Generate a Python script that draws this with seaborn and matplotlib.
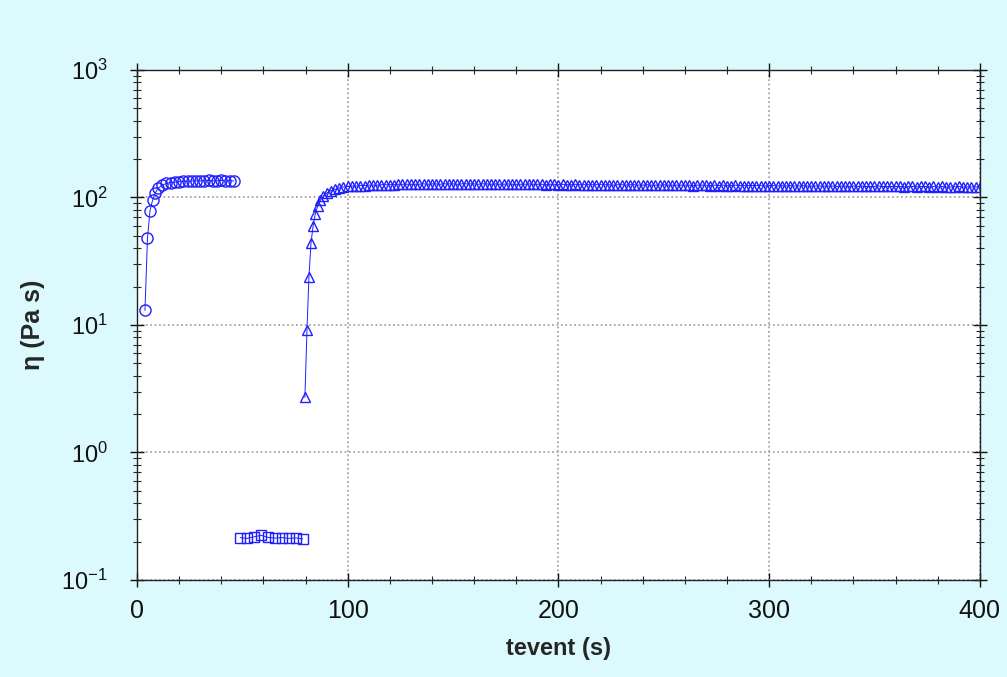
import numpy as np
import pandas as pd
import matplotlib
matplotlib.use("Agg")
import matplotlib.pyplot as plt
import seaborn as sns
from matplotlib.ticker import LogLocator, FuncFormatter, MultipleLocator, NullFormatter

# ---- data ----
circ_t = [3.8, 5.0, 6.2, 7.4, 8.6, 10, 12, 14, 16, 18, 20, 22, 24, 26, 28, 30,
          32, 34, 36, 38, 40, 42, 44, 46]
circ_eta = [13, 48, 79, 95, 108, 118, 125, 129, 131, 132, 133, 134, 134, 135,
            135, 135, 135, 136, 135, 135, 136, 135, 135, 135]

sq_t = [49, 52.3, 55.6, 58.9, 62.2, 65.5, 68.8, 72.1, 75.4, 78.7]
sq_eta = [0.215, 0.212, 0.218, 0.224, 0.216, 0.213, 0.215, 0.212, 0.214, 0.210]

tri_t_rise = [79.7, 80.7, 81.6, 82.6, 83.6, 84.6, 85.8, 87, 88.5, 90, 92, 94, 96, 98]
tri_eta_rise = [2.7, 9.2, 23.6, 44, 60, 74, 86, 95, 102, 108, 113, 116, 119, 121]

tri_t_plateau = list(np.arange(100, 401, 2))
tri_eta_plateau = [
    122, 123, 123, 124, 124, 125, 125, 125, 126, 126,
    126, 126, 127, 127, 127, 127, 127, 127, 128, 127,
    128, 128, 127, 128, 128, 128, 127, 128, 128, 128,
    128, 127, 128, 128, 127, 128, 127, 127, 128, 127,
    127, 127, 127, 128, 127, 127, 127, 126, 127, 127,
    126, 127, 126, 126, 127, 126, 126, 126, 126, 126,
    126, 126, 126, 125, 126, 126, 125, 126, 126, 125,
    125, 126, 125, 125, 125, 126, 125, 125, 125, 125,
    125, 125, 124, 125, 125, 125, 124, 125, 124, 125,
    124, 124, 125, 124, 124, 124, 124, 124, 124, 123,
    124, 124, 123, 124, 123, 124, 123, 123, 124, 123,
    123, 123, 123, 123, 123, 123, 122, 123, 123, 122,
    123, 122, 123, 122, 122, 122, 123, 122, 122, 122,
    122, 122, 121, 122, 122, 121, 122, 122, 121, 122,
    121, 122, 121, 121, 121, 122, 121, 121, 121, 121,
    121,
]

tri_t = tri_t_rise + tri_t_plateau
tri_eta = tri_eta_rise + tri_eta_plateau

BLUE = "#1f1fff"
BG = "#dcfafd"

sns.set_theme(style="ticks")
plt.rcParams.update({
    "font.family": ["Liberation Sans", "DejaVu Sans"],
    "mathtext.fontset": "custom",
    "mathtext.rm": "Liberation Sans",
    "mathtext.it": "Liberation Sans",
    "mathtext.bf": "Liberation Sans:bold",
    "axes.edgecolor": "#222222",
    "axes.linewidth": 1.0,
    "text.color": "black",
})

fig = plt.figure(figsize=(10.07, 6.77), dpi=100, facecolor=BG)
ax = fig.add_axes([0.136, 0.1433, 0.837, 0.7533])
ax.set_facecolor("white")

series = [
    (circ_t, circ_eta, "o", 8),
    (sq_t, sq_eta, "s", 6.5),
    (tri_t, tri_eta, "^", 7),
]
for t, eta, mk, ms in series:
    df = pd.DataFrame({"t": t, "eta": eta})
    sns.lineplot(data=df, x="t", y="eta", ax=ax, color=BLUE, lw=0.7,
                 marker=mk, markersize=ms, markerfacecolor="none",
                 markeredgecolor=BLUE, markeredgewidth=1.0)


def decade_label(v, pos):
    e = int(round(np.log10(v)))
    return r"$\mathregular{10^{%s}}$" % ("-1" if e < 0 else str(e))


ax.set_yscale("log")
ax.set_xlim(0, 400)
ax.set_ylim(0.1, 1000)

ax.xaxis.set_major_locator(MultipleLocator(100))
ax.xaxis.set_minor_locator(MultipleLocator(20))
ax.yaxis.set_major_locator(LogLocator(base=10, numticks=10))
ax.yaxis.set_major_formatter(FuncFormatter(decade_label))
ax.yaxis.set_minor_locator(LogLocator(base=10, subs=np.arange(2, 10), numticks=20))
ax.yaxis.set_minor_formatter(NullFormatter())

ax.tick_params(which="major", direction="inout", length=10, width=1,
               top=True, right=True, colors="#111111")
ax.tick_params(which="minor", direction="inout", length=6, width=0.8,
               top=True, right=True)
ax.tick_params(axis="y", which="major", pad=16, labelsize=17)
ax.tick_params(axis="x", which="major", pad=9, labelsize=18)

ax.grid(True, which="major", linestyle=":", color="#999999", linewidth=1.2)
ax.set_axisbelow(True)

ax.set_xlabel("tevent (s)", fontsize=17, fontweight="bold", labelpad=10)
ax.set_ylabel("η (Pa s)", fontsize=18, fontweight="bold", labelpad=12)

fig.savefig("out.png", dpi=100, facecolor=fig.get_facecolor())
